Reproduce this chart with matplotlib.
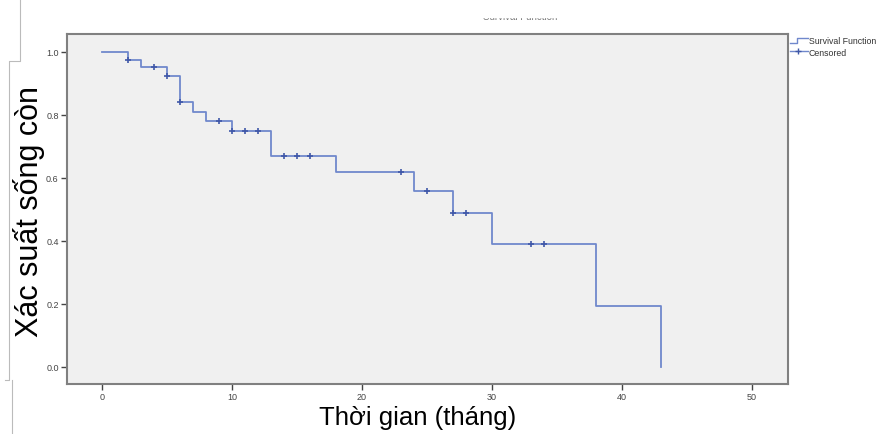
import numpy as np
import matplotlib.pyplot as plt
from matplotlib.lines import Line2D
from matplotlib.patches import Rectangle

plt.rcParams['font.family'] = ['Liberation Sans', 'DejaVu Sans']

# step survival curve: times where it changes, and level after each time
step_times = [0, 2, 3, 5, 6, 7, 8, 10, 13, 18, 24, 27, 30, 38, 43]
step_surv = [1.0, 0.975, 0.952, 0.925, 0.84, 0.81, 0.78, 0.75, 0.67, 0.62, 0.56, 0.49, 0.39, 0.195, 0.0]

# censored observations
cens_times = [2, 4, 5, 6, 9, 10, 11, 12, 14, 15, 16, 23, 25, 27, 28, 33, 34]
cens_surv = [0.975, 0.952, 0.925, 0.84, 0.78, 0.75, 0.75, 0.75, 0.67, 0.67, 0.67,
             0.62, 0.56, 0.49, 0.49, 0.39, 0.39]

line_col = '#7088cc'
mark_col = '#4058a8'

fig = plt.figure(figsize=(8.78, 4.35), dpi=100)
ax = fig.add_axes([0.0763, 0.115, 0.821, 0.8046])
ax.set_facecolor('#f0f0f0')

ax.step(step_times, step_surv, where='post', color=line_col, lw=1.3)
ax.plot(cens_times, cens_surv, ls='none', marker='+', ms=5, mew=1.2, color=mark_col)

ax.set_xlim(-2.7, 52.77)
ax.set_ylim(-0.054, 1.057)
ax.set_xticks([0, 10, 20, 30, 40, 50])
ax.set_yticks([0.0, 0.2, 0.4, 0.6, 0.8, 1.0])
ax.set_yticklabels(['0.0', '0.2', '0.4', '0.6', '0.8', '1.0'])
ax.tick_params(labelsize=6.5, colors='#444444', length=4, width=1, pad=2)

for s in ax.spines.values():
    s.set_color('#808080')
    s.set_linewidth(1.5)

tf = fig.transFigure
W, H = 878.0, 435.0
def fx(p): return p / W
def fy(p): return 1 - p / H

# axis titles
fig.text(fx(418), fy(418), 'Thời gian (tháng)', fontsize=18.5, ha='center', va='center')
fig.text(fx(29), fy(212), 'Xác suất sống còn', fontsize=22, rotation=90, ha='center', va='center')

# legend drawn outside on the right
fig.add_artist(Line2D([fx(790), fx(797), fx(797), fx(808)],
                      [fy(44), fy(44), fy(39), fy(39)],
                      transform=tf, color=line_col, lw=1))
fig.add_artist(Line2D([fx(790), fx(808)], [fy(52), fy(52)], transform=tf, color=line_col, lw=1))
fig.add_artist(Line2D([fx(798)], [fy(52)], transform=tf, color=mark_col, marker='+', ms=5, ls='none'))
fig.text(fx(809), fy(42), 'Survival Function', fontsize=6.3, va='center', ha='left', color='#333333')
fig.text(fx(809), fy(53), 'Censored', fontsize=6.3, va='center', ha='left', color='#333333')

# faint title, mostly cut off at the top
fig.text(fx(520), fy(20), 'Survival Function', fontsize=7, ha='center', va='baseline', color='#777777')
fig.add_artist(Rectangle((0, fy(18)), 1, 18 / H, transform=tf, color='white', zorder=10))

# bracket lines at the left edge
fig.add_artist(Line2D([fx(20), fx(20), fx(9), fx(9), fx(5)],
                      [fy(0), fy(62), fy(62), fy(381), fy(381)],
                      transform=tf, color='#bbbbbb', lw=0.8, zorder=11))
fig.add_artist(Line2D([fx(12), fx(12)], [fy(381), fy(435)], transform=tf, color='#bbbbbb', lw=0.8))

fig.savefig('out.png', dpi=100)
